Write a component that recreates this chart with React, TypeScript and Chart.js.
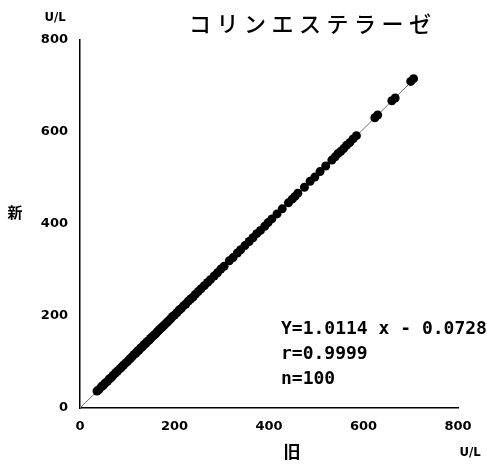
import React, { useEffect, useRef } from "react";
import { Chart, registerables } from "chart.js";

Chart.register(...registerables);

const oldValues = [
  36, 40, 45, 49, 53, 58, 62, 66, 70, 75, 79, 84, 88, 92, 97, 101, 106, 110, 114, 118,
  122, 125, 129, 132, 136, 139, 142, 146, 149, 152, 156, 159, 162, 165, 168, 171, 174, 178, 181, 185,
  188, 192, 196, 200, 205, 210, 214, 219, 224, 229, 234, 239, 244, 250, 256,
  263, 270, 276, 284, 291, 298, 305, 316, 324, 333, 340, 349, 358, 366, 374, 382, 391, 398,
  406, 417, 428, 441, 449, 455, 461, 475, 487, 497, 508, 520, 533, 540, 546, 552, 558, 564, 571, 578,
  585, 624, 630, 660, 667, 700, 706,
];
const newValues = [
  37, 40, 46, 49, 54, 58, 63, 66, 71, 76, 80, 85, 89, 93, 98, 102, 107, 111, 116, 119,
  124, 126, 131, 133, 138, 140, 144, 147, 151, 154, 158, 160, 164, 167, 170, 173, 176, 180, 183, 187,
  190, 194, 199, 202, 207, 213, 216, 222, 226, 232, 237, 241, 247, 253, 259,
  266, 273, 279, 287, 294, 302, 308, 320, 327, 337, 344, 353, 362, 370, 379, 386, 395, 403,
  411, 422, 433, 446, 454, 460, 467, 480, 493, 502, 514, 526, 539, 546, 553, 558, 564, 571, 577, 585,
  592, 631, 637, 668, 674, 710, 716,
];
const fitLineX = [0, 712];
const fitLineY = [-0.07, 720];
const tickValues = [0, 200, 400, 600, 800];
const titleText = "コリンエステラーゼ";
const annotationLines = ["Y=1.0114 x - 0.0728", "r=0.9999", "n=100"];
const xAxisTitle = "旧";
const yAxisTitle = "新";
const unitText = "U/L";

export default function App() {
  const canvasRef = useRef<HTMLCanvasElement | null>(null);

  useEffect(() => {
    document.body.style.margin = "0";
    const canvas = canvasRef.current;
    if (!canvas) return;

    const textPlugin = {
      id: "textPlugin",
      afterDraw(chart: any) {
        const ctx = chart.ctx as CanvasRenderingContext2D;
        const xs = chart.scales.x;
        ctx.save();
        ctx.fillStyle = "#000";
        ctx.textBaseline = "middle";
        ctx.textAlign = "center";
        // title, drawn char by char
        ctx.font = '500 22px "Noto Sans CJK JP"';
        const chars = Array.from(titleText);
        const startX = 200;
        const step = 27.5;
        chars.forEach((c, i) => ctx.fillText(c, startX + i * step, 24));
        // axis titles
        ctx.font = 'bold 15px "Noto Sans CJK JP"';
        ctx.fillText(yAxisTitle, 15, 212);
        ctx.font = 'bold 17px "Noto Sans CJK JP"';
        ctx.fillText(xAxisTitle, (xs.left + xs.right) / 2 + 23, 452);
        ctx.font = 'bold 13px "DejaVu Sans Condensed", "DejaVu Sans"';
        ctx.fillText(unitText, 55, 18);
        ctx.fillText(unitText, 470, 453);
        // annotation
        ctx.textAlign = "left";
        ctx.font = 'bold 18px "DejaVu Sans Mono"';
        annotationLines.forEach((l, i) => ctx.fillText(l, 281, 329 + i * 25));
        ctx.restore();
      },
    };

    const chart = new Chart(canvas, {
      type: "scatter",
      data: {
        datasets: [
          {
            type: "line",
            data: fitLineX.map((x, i) => ({ x, y: fitLineY[i] })),
            borderColor: "#707070",
            borderWidth: 1,
            pointRadius: 0,
            fill: false,
            order: 2,
          } as any,
          {
            data: oldValues.map((x, i) => ({ x, y: newValues[i] })),
            backgroundColor: "#000",
            borderColor: "#000",
            pointRadius: 4.5,
            pointBorderWidth: 0,
            order: 1,
          },
        ],
      },
      plugins: [textPlugin],
      options: {
        animation: false,
        responsive: false,
        layout: { padding: { left: 0, right: 29, top: 40, bottom: 0 } },
        plugins: { legend: { display: false }, tooltip: { enabled: false } },
        scales: {
          x: {
            type: "linear",
            min: 0,
            max: 800,
            afterFit: (s: any) => {
              s.height = 59;
            },
            afterBuildTicks: (s: any) => {
              s.ticks = tickValues.map((v) => ({ value: v }));
            },
            grid: { display: false, drawTicks: false },
            border: { display: true, color: "#000", width: 1.5 },
            ticks: {
              color: "#000",
              padding: 11,
              font: { family: '"DejaVu Sans"', size: 13, weight: "bold" },
              maxRotation: 0,
            },
          },
          y: {
            type: "linear",
            min: 0,
            max: 800,
            afterFit: (s: any) => {
              s.width = 80;
            },
            afterBuildTicks: (s: any) => {
              s.ticks = tickValues.map((v) => ({ value: v }));
            },
            grid: { display: false, drawTicks: false },
            border: { display: true, color: "#000", width: 1.5 },
            ticks: {
              color: "#000",
              padding: 12,
              font: { family: '"DejaVu Sans"', size: 13, weight: "bold" },
            },
          },
        },
      },
    });
    return () => chart.destroy();
  }, []);

  return (
    <div style={{ width: 487, height: 467 }}>
      <canvas ref={canvasRef} width={487} height={467} />
    </div>
  );
}
